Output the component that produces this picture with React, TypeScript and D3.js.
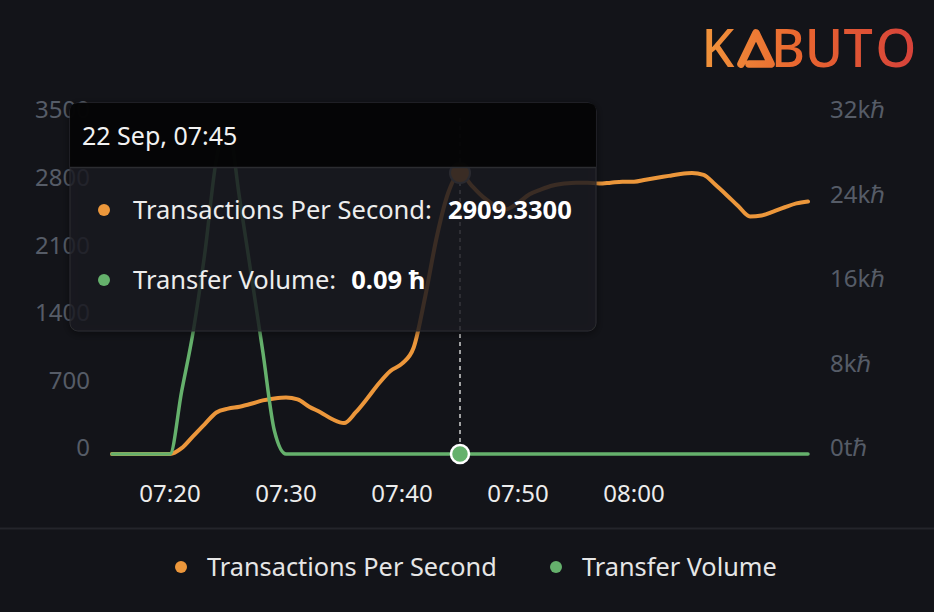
import React from 'react';
import * as d3 from 'd3';

// one reading per minute, 07:15 -> 08:15
const startTime = new Date(2023, 8, 22, 7, 15);
const minutes = d3.range(61);
const times = minutes.map((m) => d3.timeMinute.offset(startTime, m));

const tps = [
  0, 0, 0, 0, 0, 0, 60, 185, 310, 430, 470, 490, 520, 555, 575, 585, 565, 490, 430, 360, 320,
  430, 575, 730, 860, 935, 1100, 1630, 2250, 2710, 2909.33, 2780, 2660, 2575, 2535, 2600, 2690,
  2740, 2780, 2800, 2810, 2810, 2800, 2810, 2820, 2820, 2840, 2860, 2880, 2900, 2910, 2890, 2790,
  2680, 2565, 2460, 2470, 2510, 2555, 2595, 2615,
];

const volume = [
  0, 0, 0, 0, 0, 0, 5900, 11600, 19000, 27900, 31000, 24200, 17000, 9700, 2200, 0, 0.1, 0.08, 0,
  0.12, 0.05, 0, 0.1, 0.07, 0, 0.11, 0.06, 0.1, 0, 0.08, 0.09, 0.1, 0, 0.07, 0.12, 0, 0.09, 0.05,
  0, 0.1, 0.08, 0, 0.06, 0.11, 0, 0.09, 0.07, 0, 0.1, 0.05, 0, 0.08, 0.12, 0, 0.07, 0.1, 0, 0.06,
  0.09, 0, 0.08,
];

const leftTicks = [0, 700, 1400, 2100, 2800, 3500];
const rightTicks = [0, 8000, 16000, 24000, 32000];
const rightTickLabels = ['0t\u210F', '8k\u210F', '16k\u210F', '24k\u210F', '32k\u210F'];
const xTickLabels = ['07:20', '07:30', '07:40', '07:50', '08:00'];

const seriesNames = ['Transactions Per Second', 'Transfer Volume'];
const seriesColors = ['#ec973b', '#65b16c'];

const hoverIndex = 30;
const tooltipTitle = '22 Sep, 07:45';
const tooltipValues = ['2909.3300', '0.09 \u0127'];

const logoLetters = ['K', 'A', 'B', 'U', 'T', 'O'];

const W = 934;
const H = 612;
const font = "'Noto Sans', 'DejaVu Sans', sans-serif";

const App = () => {
  const x = d3
    .scaleTime()
    .domain([times[0], times[times.length - 1]])
    .range([112, 808]);
  const yLeft = d3.scaleLinear().domain([0, 3500]).range([454, 116]);
  const yRight = d3.scaleLinear().domain([0, 32000]).range([454, 116]);

  const parseTick = d3.timeParse('%H:%M');
  const xTicks = xTickLabels.map((s) => {
    const p = parseTick(s) as Date;
    return new Date(2023, 8, 22, p.getHours(), p.getMinutes());
  });

  const tpsLine = d3
    .line<number>()
    .x((_, i) => x(times[i]))
    .y((v) => yLeft(v))
    .curve(d3.curveMonotoneX);
  const volLine = d3
    .line<number>()
    .x((_, i) => x(times[i]))
    .y((v) => yRight(v))
    .curve(d3.curveMonotoneX);

  const hx = x(times[hoverIndex]);
  // letter centres of the logo
  const logoX = [718, 754, 788, 824, 858, 896];

  return (
    <div>
      <style>{`body{margin:0;background:#131419;}`}</style>
      <svg width={W} height={H} style={{ display: 'block', fontFamily: font }}>
        <defs>
          <linearGradient id="logoGrad" gradientUnits="userSpaceOnUse" x1={704} x2={915} y1={0} y2={0}>
            <stop offset="0%" stopColor="#f0933b" />
            <stop offset="45%" stopColor="#e9662f" />
            <stop offset="100%" stopColor="#d6423a" />
          </linearGradient>
          <filter id="shadow" x="-10%" y="-10%" width="120%" height="120%">
            <feDropShadow dx="0" dy="2" stdDeviation="4" floodColor="#000" floodOpacity="0.6" />
          </filter>
        </defs>
        <rect width={W} height={H} fill="#131419" />

        {/* logo */}
        <text y={67} fontSize={52} fontWeight={500} fill="url(#logoGrad)" textAnchor="middle">
          {logoLetters.map((l, i) => (
            <tspan key={i} x={logoX[i]} fillOpacity={l === 'A' ? 0 : 1}>
              {l}
            </tspan>
          ))}
        </text>
        <path
          d="M741,64 L756,33 L771,64 L749,64"
          fill="none"
          stroke="url(#logoGrad)"
          strokeWidth={7.5}
          strokeLinecap="round"
          strokeLinejoin="round"
        />

        {/* left axis */}
        {leftTicks.map((t) => (
          <text key={t} x={90} y={yLeft(t) - 4} textAnchor="end" fontSize={24} fill="#565c67" dominantBaseline="middle">
            {t}
          </text>
        ))}
        {/* right axis */}
        {rightTicks.map((t, i) => (
          <text key={t} x={830} y={yRight(t) - 4} fontSize={24} fill="#565c67" dominantBaseline="middle">
            {rightTickLabels[i]}
          </text>
        ))}
        {/* x axis */}
        {xTicks.map((t, i) => (
          <text key={i} x={x(t)} y={502} textAnchor="middle" fontSize={24} fill="#ececec">
            {xTickLabels[i]}
          </text>
        ))}

        {/* series */}
        <path d={tpsLine(tps) || ''} fill="none" stroke={seriesColors[0]} strokeWidth={4} strokeLinecap="round" strokeLinejoin="round" />
        <path d={volLine(volume) || ''} fill="none" stroke={seriesColors[1]} strokeWidth={3.5} strokeLinecap="round" strokeLinejoin="round" />

        {/* crosshair + markers */}
        <line x1={hx} x2={hx} y1={118} y2={446} stroke="#cfcfcf" strokeWidth={1.5} strokeDasharray="4 4" />
        <circle cx={hx} cy={yLeft(tps[hoverIndex])} r={10} fill={seriesColors[0]} stroke="#8a8a8a" strokeWidth={2} />
        <circle cx={hx} cy={yRight(volume[hoverIndex])} r={9} fill={seriesColors[1]} stroke="#ffffff" strokeWidth={2.5} />

        {/* tooltip */}
        <g filter="url(#shadow)">
          <rect x={70} y={103} width={526} height={228} rx={8} fill="#1e1f23" fillOpacity={0.72} stroke="#2a2b30" strokeWidth={1} />
        </g>
        <path d="M70,167 L70,111 Q70,103 78,103 L588,103 Q596,103 596,111 L596,167 Z" fill="#030303" fillOpacity={0.9} />
        <line x1={70} x2={596} y1={167.5} y2={167.5} stroke="#2c2d31" strokeWidth={1.5} />
        <text x={82} y={145} fontSize={25} fill="#f2f2f2">
          {tooltipTitle}
        </text>
        <circle cx={104} cy={210} r={6} fill={seriesColors[0]} />
        <text x={133} y={219} fontSize={25.5} fill="#ededed">
          {seriesNames[0]}:
          <tspan dx={16} fontWeight={700} fill="#ffffff">
            {tooltipValues[0]}
          </tspan>
        </text>
        <circle cx={104} cy={280} r={6} fill={seriesColors[1]} />
        <text x={133} y={289} fontSize={25.5} fill="#ededed">
          {seriesNames[1]}:
          <tspan dx={15} fontWeight={700} fill="#ffffff">
            {tooltipValues[1]}
          </tspan>
        </text>

        {/* legend */}
        <line x1={0} x2={W} y1={528.5} y2={528.5} stroke="#24252b" strokeWidth={2} />
        <circle cx={181} cy={567} r={6} fill={seriesColors[0]} />
        <text x={207} y={576} fontSize={25.3} fill="#e6e6e6">
          {seriesNames[0]}
        </text>
        <circle cx={556} cy={567} r={6} fill={seriesColors[1]} />
        <text x={582} y={576} fontSize={25.3} fill="#e6e6e6">
          {seriesNames[1]}
        </text>
      </svg>
    </div>
  );
};

export default App;
